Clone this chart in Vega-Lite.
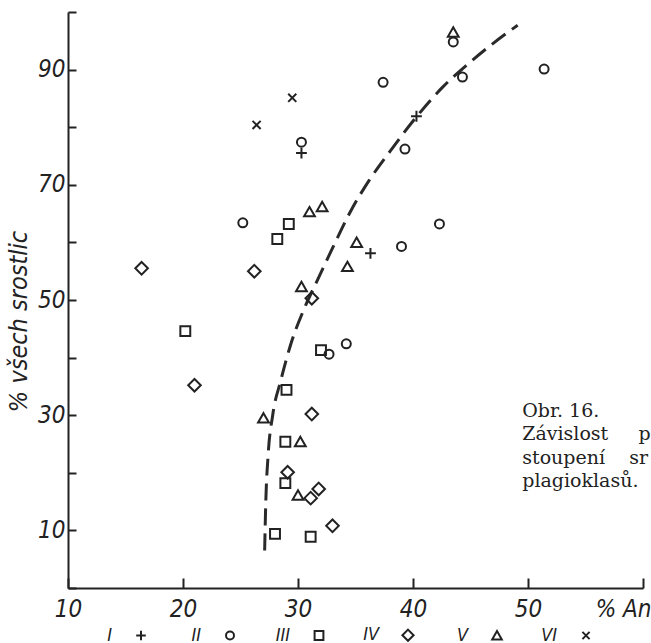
{
  "$schema": "https://vega.github.io/schema/vega-lite/v6.json",
  "width": 575,
  "height": 576,
  "autosize": {"type": "none"},
  "padding": {"left": 68, "top": 12, "right": 8, "bottom": 55},
  "background": "white",
  "config": {"view": {"stroke": null}, "font": "Liberation Sans Narrow, DejaVu Sans Condensed, sans-serif"},
  "datasets": {
    "points": [
      {"An": 30.3, "pct": 75.5, "typ": "I"},
      {"An": 40.3, "pct": 81.9, "typ": "I"},
      {"An": 36.3, "pct": 58.1, "typ": "I"},
      {"An": 30.3, "pct": 77.4, "typ": "II"},
      {"An": 25.2, "pct": 63.4, "typ": "II"},
      {"An": 43.5, "pct": 94.8, "typ": "II"},
      {"An": 51.4, "pct": 90.1, "typ": "II"},
      {"An": 44.3, "pct": 88.7, "typ": "II"},
      {"An": 37.4, "pct": 87.8, "typ": "II"},
      {"An": 39.3, "pct": 76.2, "typ": "II"},
      {"An": 42.3, "pct": 63.2, "typ": "II"},
      {"An": 39.0, "pct": 59.3, "typ": "II"},
      {"An": 32.7, "pct": 40.6, "typ": "II"},
      {"An": 34.2, "pct": 42.4, "typ": "II"},
      {"An": 29.2, "pct": 63.2, "typ": "III"},
      {"An": 28.2, "pct": 60.6, "typ": "III"},
      {"An": 20.2, "pct": 44.6, "typ": "III"},
      {"An": 29.0, "pct": 34.4, "typ": "III"},
      {"An": 28.9, "pct": 25.4, "typ": "III"},
      {"An": 28.9, "pct": 18.2, "typ": "III"},
      {"An": 28.0, "pct": 9.4, "typ": "III"},
      {"An": 31.1, "pct": 8.9, "typ": "III"},
      {"An": 32.0, "pct": 41.3, "typ": "III"},
      {"An": 16.4, "pct": 55.5, "typ": "IV"},
      {"An": 26.2, "pct": 55.0, "typ": "IV"},
      {"An": 31.2, "pct": 50.3, "typ": "IV"},
      {"An": 21.0, "pct": 35.2, "typ": "IV"},
      {"An": 31.2, "pct": 30.2, "typ": "IV"},
      {"An": 29.1, "pct": 20.1, "typ": "IV"},
      {"An": 31.1, "pct": 15.6, "typ": "IV"},
      {"An": 31.8, "pct": 17.2, "typ": "IV"},
      {"An": 33.0, "pct": 10.8, "typ": "IV"},
      {"An": 31.0, "pct": 65.3, "typ": "V"},
      {"An": 32.1, "pct": 66.2, "typ": "V"},
      {"An": 30.3, "pct": 52.3, "typ": "V"},
      {"An": 43.5, "pct": 96.5, "typ": "V"},
      {"An": 35.1, "pct": 60.0, "typ": "V"},
      {"An": 34.3, "pct": 55.8, "typ": "V"},
      {"An": 27.0, "pct": 29.5, "typ": "V"},
      {"An": 30.2, "pct": 25.4, "typ": "V"},
      {"An": 30.0, "pct": 16.1, "typ": "V"},
      {"An": 26.4, "pct": 80.4, "typ": "VI"},
      {"An": 29.5, "pct": 85.1, "typ": "VI"}
    ],
    "curve": [
      {"An": 27.1, "pct": 6.5},
      {"An": 27.2, "pct": 15},
      {"An": 27.4, "pct": 23},
      {"An": 27.8, "pct": 30},
      {"An": 28.5, "pct": 36},
      {"An": 29.4, "pct": 42.5},
      {"An": 30.5, "pct": 48.3},
      {"An": 31.7, "pct": 53.5},
      {"An": 33.0, "pct": 59},
      {"An": 34.6, "pct": 65.5},
      {"An": 36.2, "pct": 70.8},
      {"An": 38.0, "pct": 75.8},
      {"An": 40.3, "pct": 81.8},
      {"An": 42.6, "pct": 87},
      {"An": 44.8, "pct": 91},
      {"An": 47.0, "pct": 94.6},
      {"An": 49.1, "pct": 97.7}
    ]
  },
  "layer": [
    {
      "data": {"name": "curve"},
      "mark": {"type": "line", "strokeDash": [17, 8], "strokeWidth": 3, "color": "#2a2a2a", "interpolate": "monotone"},
      "encoding": {
        "x": {
          "field": "An", "type": "quantitative",
          "scale": {"domain": [10, 60], "nice": false, "zero": false},
          "axis": {
            "values": [10, 20, 30, 40, 50, 60],
            "labelExpr": "datum.value == 60 ? '% An' : datum.label",
            "title": null,
            "grid": true, "gridDash": [0, 566, 10, 2000], "gridWidth": 2, "gridColor": "#222", "gridOpacity": 1,
            "ticks": false,
            "domainColor": "#222", "domainWidth": 2,
            "labelFontSize": 24, "labelFontStyle": "italic", "labelColor": "#222",
            "labelPadding": 9, "labelFlush": false, "labelOverlap": false,
            "labelAlign": {"condition": {"test": "datum.value == 60", "value": "right"}, "value": "center"},
            "labelOffset": {"condition": {"test": "datum.value == 60", "value": 8}, "value": 0}
          }
        },
        "y": {
          "field": "pct", "type": "quantitative",
          "scale": {"domain": [0, 100], "nice": false},
          "axis": {
            "values": [0, 10, 20, 30, 40, 50, 60, 70, 80, 90, 100],
            "labelExpr": "datum.value % 20 == 10 ? datum.label : ''",
            "title": "% všech srostlic",
            "titleFontSize": 25, "titleFontStyle": "italic", "titleFontWeight": "normal", "titleColor": "#222",
            "titleX": -50, "titleY": 309, "titleAlign": "center", "titleBaseline": "middle",
            "grid": true, "gridDash": [8, 2000], "gridWidth": 2, "gridColor": "#222", "gridOpacity": 1,
            "ticks": false,
            "domainColor": "#222", "domainWidth": 2,
            "labelFontSize": 24, "labelFontStyle": "italic", "labelColor": "#222",
            "labelPadding": 3, "labelFlush": false, "labelOverlap": false
          }
        }
      }
    },
    {
      "data": {"name": "points"},
      "mark": {"type": "point", "filled": false, "strokeWidth": 2, "color": "#222", "opacity": 1, "size": 81},
      "encoding": {
        "x": {"field": "An", "type": "quantitative"},
        "y": {"field": "pct", "type": "quantitative"},
        "shape": {
          "field": "typ", "type": "nominal",
          "scale": {
            "domain": ["I", "II", "III", "IV", "V", "VI"],
            "range": [
              "M-1.2,0L1.2,0M0,-1.2L0,1.2",
              "circle",
              "M-1.1,-1.1L1.1,-1.1L1.1,1.1L-1.1,1.1Z",
              "M0,-1.4L1.4,0L0,1.4L-1.4,0Z",
              "M0,-1.1L1.2,1L-1.2,1Z",
              "M-0.9,-0.9L0.9,0.9M-0.9,0.9L0.9,-0.9"
            ]
          },
          "legend": {
            "orient": "none", "legendX": 64, "legendY": 614,
            "direction": "horizontal", "columns": 6, "title": null,
            "labelFontSize": 18, "labelFontStyle": "italic", "labelColor": "#222",
            "labelAlign": "right",
            "symbolOffset": 0, "labelOffset": -38, "columnPadding": 34,
            "symbolSize": 64, "symbolStrokeWidth": 2, "symbolStrokeColor": "#222", "symbolFillColor": "transparent",
            "gridAlign": "all"
          }
        }
      }
    },
    {
      "data": {"values": [{"caption": "Obr. 16."}]},
      "mark": {
        "type": "text",
        "text": ["Obr. 16.", "Závislost\u00a0\u00a0\u00a0\u00a0\u00a0p", "stoupení\u00a0\u00a0\u00a0\u00a0sr", "plagioklasů."],
        "font": "DejaVu Serif", "fontSize": 19, "lineHeight": 23.5,
        "align": "left", "baseline": "top", "color": "#222"
      },
      "encoding": {
        "x": {"datum": 49.5, "type": "quantitative"},
        "y": {"datum": 32.3, "type": "quantitative"}
      }
    }
  ]
}
